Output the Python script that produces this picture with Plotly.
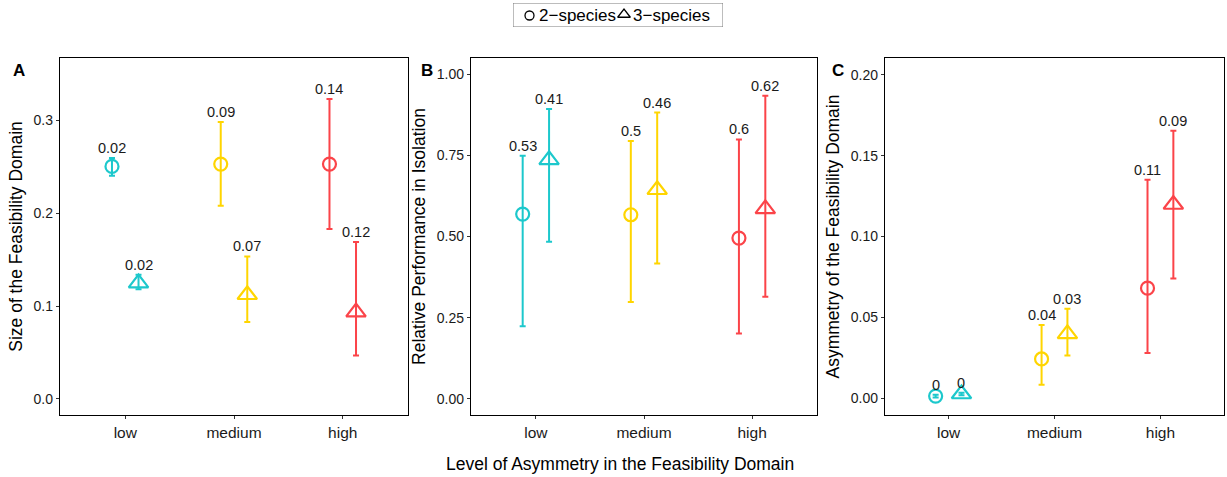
import plotly.graph_objects as go

levels = ["low", "medium", "high"]
species = ["2\u2212species", "3\u2212species"]
colors = {"low": "#1CC8CC", "medium": "#FFD500", "high": "#FB4449"}

# Panel A: Size of the Feasibility Domain
a_mean_2 = [0.2506, 0.2531, 0.2531]
a_lo_2 = [0.2406, 0.2082, 0.1830]
a_hi_2 = [0.2596, 0.2985, 0.3233]
a_lab_2 = ["0.02", "0.09", "0.14"]
a_mean_3 = [0.1248, 0.1122, 0.0935]
a_lo_3 = [0.1180, 0.0827, 0.0467]
a_hi_3 = [0.1338, 0.1535, 0.1690]
a_lab_3 = ["0.02", "0.07", "0.12"]

# Panel B: Relative Performance in Isolation
b_mean_2 = [0.569, 0.567, 0.495]
b_lo_2 = [0.2235, 0.298, 0.201]
b_hi_2 = [0.749, 0.794, 0.799]
b_lab_2 = ["0.53", "0.5", "0.6"]
b_mean_3 = [0.736, 0.644, 0.585]
b_lo_3 = [0.484, 0.417, 0.314]
b_hi_3 = [0.893, 0.882, 0.934]
b_lab_3 = ["0.41", "0.46", "0.62"]

# Panel C: Asymmetry of the Feasibility Domain
c_mean_2 = [0.0012, 0.0242, 0.0680]
c_lo_2 = [0.0003, 0.0082, 0.0279]
c_hi_2 = [0.0021, 0.0452, 0.1352]
c_lab_2 = ["0", "0.04", "0.11"]
c_mean_3 = [0.0025, 0.0397, 0.1198]
c_lo_3 = [0.0018, 0.0263, 0.0740]
c_hi_3 = [0.0032, 0.0553, 0.1655]
c_lab_3 = ["0", "0.03", "0.09"]

y_titles = ["Size of the Feasibility Domain", "Relative Performance in Isolation",
            "Asymmetry of the Feasibility Domain"]
panel_letters = ["A", "B", "C"]
y_ranges = [[-0.0175, 0.3675], [-0.05, 1.05], [-0.0105, 0.2105]]
y_ticks = [[0.0, 0.1, 0.2, 0.3], [0.0, 0.25, 0.5, 0.75, 1.0], [0.0, 0.05, 0.1, 0.15, 0.2]]
y_ticktext = [["0.0", "0.1", "0.2", "0.3"], ["0.00", "0.25", "0.50", "0.75", "1.00"],
              ["0.00", "0.05", "0.10", "0.15", "0.20"]]
x_title = "Level of Asymmetry in the Feasibility Domain"

panels = [
    (a_mean_2, a_lo_2, a_hi_2, a_lab_2, a_mean_3, a_lo_3, a_hi_3, a_lab_3),
    (b_mean_2, b_lo_2, b_hi_2, b_lab_2, b_mean_3, b_lo_3, b_hi_3, b_lab_3),
    (c_mean_2, c_lo_2, c_hi_2, c_lab_2, c_mean_3, c_lo_3, c_hi_3, c_lab_3),
]

W, H = 1227, 477
x_domains_px = [(60, 408), (471, 817), (885, 1224)]
y_dom = [1 - 415 / H, 1 - 58 / H]
dodge = 0.122
FONT = "Arial, Liberation Sans, sans-serif"
symbols = ["circle-open", "triangle-up-open"]
sizes = [13, 17]

fig = go.Figure()
annotations = []
shapes = []

for p, data in enumerate(panels):
    m2, lo2, hi2, lab2, m3, lo3, hi3, lab3 = data
    xa = "x" if p == 0 else f"x{p+1}"
    ya = "y" if p == 0 else f"y{p+1}"
    for s, (m, lo, hi, lab, off) in enumerate([
        (m2, lo2, hi2, lab2, -dodge),
        (m3, lo3, hi3, lab3, dodge),
    ]):
        for i, lev in enumerate(levels):
            xv = i + 1 + off
            fig.add_trace(go.Scatter(
                x=[xv], y=[m[i]], mode="markers", xaxis=xa, yaxis=ya,
                marker=dict(symbol=symbols[s], size=sizes[s], color=colors[lev],
                            line=dict(width=2.2, color=colors[lev])),
                error_y=dict(type="data", symmetric=False,
                             array=[hi[i] - m[i]], arrayminus=[m[i] - lo[i]],
                             color=colors[lev], thickness=2, width=3),
                showlegend=False, hoverinfo="skip", name=species[s],
            ))
            annotations.append(dict(
                x=xv, y=hi[i], xref=xa, yref=ya, text=lab[i], showarrow=False,
                yanchor="bottom", xanchor="center", yshift=0,
                font=dict(family=FONT, size=14.5, color="#1a1a1a"),
            ))

    x0, x1 = x_domains_px[p]
    axis_common = dict(showline=True, linecolor="black", linewidth=1.3, mirror=True,
                       showgrid=False, zeroline=False, ticks="outside", ticklen=3,
                       tickcolor="#333333", tickwidth=1)
    fig.layout[f"xaxis{'' if p == 0 else p+1}"] = dict(
        domain=[x0 / W, x1 / W], range=[0.4, 3.6], anchor=ya,
        tickmode="array", tickvals=[1, 2, 3], ticktext=levels,
        tickfont=dict(family=FONT, size=15.5, color="#1a1a1a"), **axis_common)
    fig.layout[f"yaxis{'' if p == 0 else p+1}"] = dict(
        domain=y_dom, range=y_ranges[p], anchor=xa,
        tickmode="array", tickvals=y_ticks[p], ticktext=y_ticktext[p],
        tickfont=dict(family=FONT, size=14, color="#1a1a1a"),
        title=dict(text=y_titles[p], font=dict(family=FONT, size=17.5, color="black"), standoff=6),
        **axis_common)

# panel letters
for px, letter in zip([19, 427, 838], panel_letters):
    annotations.append(dict(x=px / W, y=1 - 70 / H, xref="paper", yref="paper",
                            text=f"<b>{letter}</b>", showarrow=False,
                            xanchor="center", yanchor="middle",
                            font=dict(family=FONT, size=17, color="black")))

# shared x title
annotations.append(dict(x=620 / W, y=1 - 464 / H, xref="paper", yref="paper",
                        text=x_title, showarrow=False,
                        xanchor="center", yanchor="middle",
                        font=dict(family=FONT, size=17.5, color="black")))

# legend drawn in a hidden helper axis spanning the legend box
fig.layout["xaxis4"] = dict(domain=[513 / W, 723 / W], range=[513, 723], visible=False,
                            fixedrange=True, anchor="y4")
fig.layout["yaxis4"] = dict(domain=[1 - 27 / H, 1 - 3 / H], range=[27, 3], visible=False,
                            fixedrange=True, anchor="x4")
shapes.append(dict(type="rect", xref="x4", yref="y4", x0=513, x1=723, y0=3, y1=27,
                   line=dict(color="#7a7a7a", width=1), fillcolor="rgba(0,0,0,0)"))
leg_sym_x = [529.5, 624]
leg_txt_x = [536.5, 630.5]
leg_sizes = [9, 11]
for s in range(2):
    fig.add_trace(go.Scatter(x=[leg_sym_x[s]], y=[15.5 if s == 0 else 14.5], xaxis="x4", yaxis="y4",
                             mode="markers", showlegend=False, hoverinfo="skip",
                             marker=dict(symbol=symbols[s], size=leg_sizes[s], color="black",
                                         line=dict(width=1.3, color="black"))))
    annotations.append(dict(x=leg_txt_x[s], y=15, xref="x4", yref="y4", text=species[s],
                            showarrow=False, xanchor="left", yanchor="middle",
                            font=dict(family=FONT, size=17, color="black")))

fig.update_layout(
    width=W, height=H, margin=dict(l=0, r=0, t=0, b=0),
    paper_bgcolor="white", plot_bgcolor="white",
    annotations=annotations, shapes=shapes, showlegend=False,
    font=dict(family=FONT),
)

fig.write_html("out.html")
